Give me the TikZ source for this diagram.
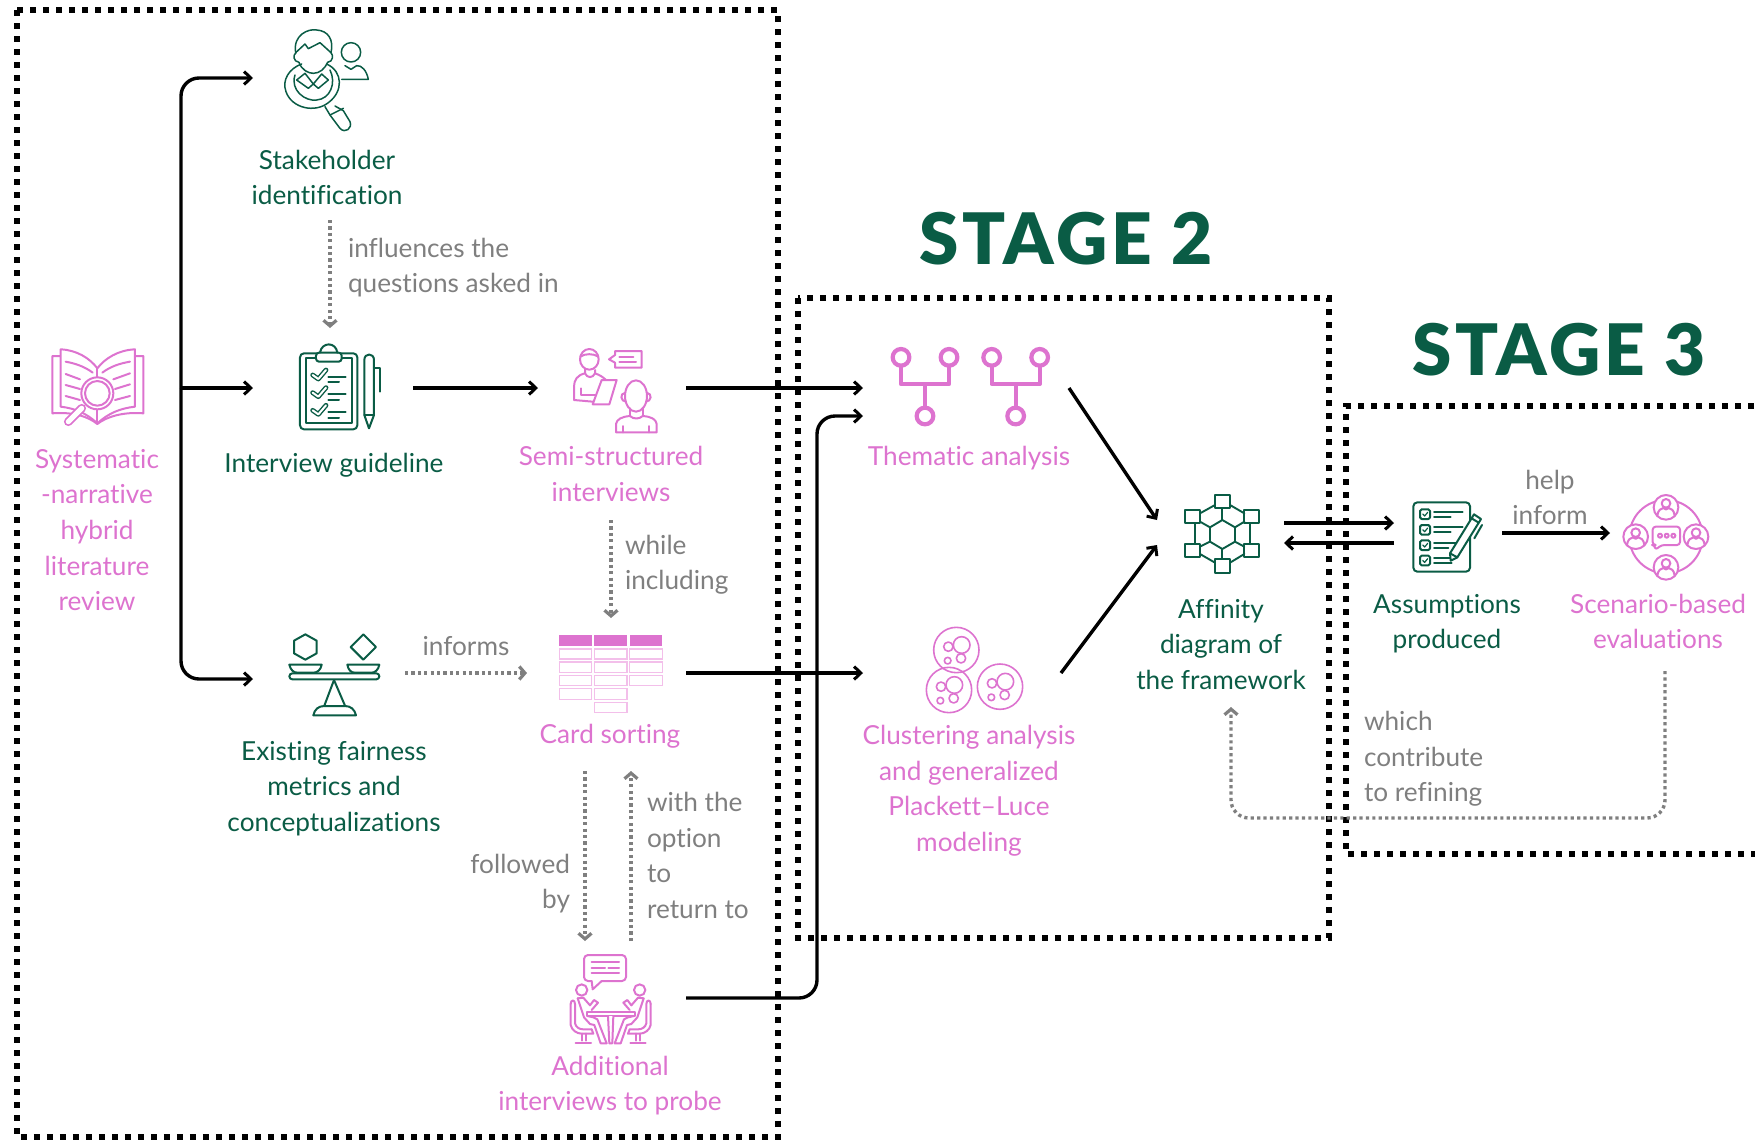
\documentclass[tikz,border=0pt]{standalone}
\usepackage{fontspec}
\setmainfont{Lato}[Ligatures=NoCommon]
\newfontfamily\stagefont[LetterSpace=5]{Lato Black}
\usetikzlibrary{arrows.meta}
\definecolor{pk}{HTML}{DD73CF}
\definecolor{pklight}{HTML}{F3BFEA}
\definecolor{gn}{HTML}{0A5C45}
\definecolor{gy}{HTML}{7F7F7F}
\def\lbltop{18.4pt}
\tikzset{
  frameline/.style={line width=3.1pt,dash pattern=on 3.2pt off 3.3pt,black},
  flow/.style={line width=1.7pt,black,-{Straight Barb[length=3.4pt,width=6.5pt,line width=1.5pt]}},
  rflow/.style={flow,rounded corners=9pt},
  dotflow/.style={line width=1.7pt,color=gy,dash pattern=on 1.6pt off 1.6pt,-{Straight Barb[length=2.8pt,width=6.5pt,line width=1.6pt]}},
  rdotflow/.style={dotflow,rounded corners=9pt},
  txt/.style={font=\fontsize{13.1}{17.85}\selectfont,inner sep=0pt,outer sep=0pt,align=center,execute at begin node={\rule{0pt}{\lbltop}},execute at end node={\rule[-3pt]{0pt}{3pt}}},
  sline/.style={/utils/exec={\def\lbltop{12.2pt}}},
  pinktxt/.style={txt,text=pk},
  greentxt/.style={txt,text=gn},
  greytxt/.style={txt,text=gy},
  leftgrey/.style={greytxt,align=left,anchor=west},
  rightgrey/.style={greytxt,align=right,anchor=east},
  stagetxt/.style={font=\stagefont\fontsize{35.5}{40}\selectfont,text=gn,inner sep=0pt},
  slot/.style={inner sep=0pt,outer sep=0pt},
  pi/.style={draw=pk,line width=1pt,line join=round,line cap=round},
  gi/.style={draw=gn,line width=1pt,line join=round,line cap=round},
  gthin/.style={draw=gn,line width=.75pt,line join=round,line cap=round},
  gmid/.style={draw=gn,line width=.95pt,line join=round,line cap=round},
  pthin/.style={draw=pk,line width=.8pt,line join=round,line cap=round},
}
\begin{document}
\begin{tikzpicture}[x=.5pt,y=-.5pt]
\useasboundingbox (0,0) rectangle (1755,1141);
\clip (0,0) rectangle (1755,1141);

% frames
\draw[frameline] (17,10) rectangle (778,1137);
\draw[frameline] (798,298) rectangle (1329,938);
\draw[frameline] (1780,406) -- (1346,406) -- (1346,854) -- (1780,854);

% titles
\node[stagetxt] (stage2) at (1066,239) {STAGE 2};
\node[stagetxt] (stage3) at (1559,350) {STAGE 3};

% icon slots (connectors attach to these)
\node[slot,minimum width=74pt,minimum height=50pt] (stk) at (327,78) {};
\node[slot,minimum width=80pt,minimum height=60pt] (guide) at (333,388) {};
\node[slot,minimum width=74pt,minimum height=40pt] (semi) at (612,388) {};
\node[slot,minimum width=76pt,minimum height=40pt] (exist) at (329,679) {};
\node[slot,minimum width=79.5pt,minimum height=55pt] (card) at (606.5,673) {};
\node[slot,minimum width=74pt,minimum height=57pt] (addl) at (612,998) {};
\node[slot,minimum width=103pt,minimum height=50pt] (them) at (966,388) {};
\node[slot,minimum width=99pt,minimum height=50pt] (clus) at (962,673) {};
\node[slot,minimum width=63.5pt,minimum height=50pt] (aff) at (1220.5,533) {};
\node[slot,minimum width=54pt,minimum height=50pt] (assm) at (1448,533) {};
\node[slot,minimum width=50pt,minimum height=50pt] (scen) at (1660,533) {};
\coordinate (trunk) at (181,388);
\coordinate (bend) at (817,700);
\coordinate (loop) at (1450,818);

% labels
\node[greentxt,minimum height=39.6pt] (stklbl) at (327,180.4) {Stakeholder\\identification};
\node[greentxt,sline] (guidelbl) at (334,463) {Interview guideline};
\node[pinktxt] (booklbl) at (97,532.9) {Systematic\\-narrative\\hybrid\\literature\\review};
\node[pinktxt,minimum height=43pt] (semilbl) at (611,477) {Semi-structured\\interviews};
\node[greentxt] (existlbl) at (334,789.4) {Existing fairness\\metrics and\\conceptualizations};
\node[pinktxt,sline,minimum height=37pt] (cardlbl) at (610,734) {Card sorting};
\node[pinktxt] (addlbl) at (610,1086.4) {Additional\\interviews to probe};
\node[pinktxt,sline] (themlbl) at (969,456) {Thematic analysis};
\node[pinktxt] (cluslbl) at (969,791.4) {Clustering analysis\\and generalized\\Plackett–Luce\\modeling};
\node[greentxt,minimum height=59.6pt] (afflbl) at (1221,647.4) {Affinity\\diagram of\\the framework};
\node[greentxt] (assmlbl) at (1447,624.4) {Assumptions\\produced};
\node[pinktxt,minimum height=46.6pt] (scenlbl) at (1658,624.4) {Scenario-based\\evaluations};

\node[leftgrey] (t1) at (348,268.4) {influences the\\questions asked in};
\node[leftgrey] (t2) at (625,565.4) {while\\including};
\node[greytxt,sline] (t3) at (466,646) {informs};
\node[rightgrey] (t4) at (570,884.4) {followed\\by};
\node[leftgrey] (t5) at (647,858.4) {with the\\option\\to\\return to};
\node[greytxt] (t6) at (1550,500.4) {help\\inform};
\node[leftgrey] (t7) at (1364,759.4) {which\\contribute\\to refining};

% solid connectors
\draw[rflow] (trunk) -- (trunk|-stk.west) -- (stk.west);
\draw[flow] (trunk) -- (guide.west);
\draw[rflow] (trunk) -- (trunk|-exist.west) -- (exist.west);
\draw[flow] (guide.east) -- (semi.west);
\draw[flow] (semi.east) -- (them.west);
\draw[flow] (card.east) -- (clus.west);
\draw[rflow] (addl.east) -| (bend) |- ([yshift=-14pt]them.west);
\draw[flow] (them.east) -- ([yshift=6.5pt]aff.west);
\draw[flow] (clus.east) -- ([yshift=-6pt]aff.west);
\draw[flow] ([yshift=5pt]aff.east) -- ([yshift=5pt]assm.west);
\draw[flow] ([yshift=-5pt]assm.west) -- ([yshift=-5pt]aff.east);
\draw[flow] (assm.east) -- (scen.west);

% dotted connectors
\draw[dotflow] ([xshift=1.5pt]stklbl.south) -- ([xshift=-1.5pt,yshift=0pt]guide.north);
\draw[dotflow] (semilbl.south) -- ([xshift=2.25pt]card.north);
\draw[dotflow] ([yshift=3pt]exist.east) -- (card.west);
\draw[dotflow] ([xshift=-12.5pt]cardlbl.south) -- ([xshift=-13.5pt]addl.north);
\draw[dotflow] ([xshift=9.5pt]addl.north) -- ([xshift=10.5pt]cardlbl.south);
\draw[rdotflow] ([xshift=3.5pt]scenlbl.south) |- (loop) -| ([xshift=5pt]afflbl.south);

% ---- stakeholder icon
\begin{scope}[scale=1/3]
 \begin{scope}[gthin]
  \draw (887,158) .. controls (878,105) and (925,85) .. (950,90) .. controls (985,92) and (1002,120) .. (993,158);
  \draw (887,158) -- (915,132) -- (925,146) -- (960,128) -- (993,158);
  \draw (888,158) .. controls (878,165) and (880,185) .. (897,187) .. controls (905,210) and (925,220) .. (940,220) .. controls (960,220) and (975,205) .. (983,187) .. controls (1000,185) and (1000,165) .. (993,158);
  \draw (890,240) -- (915,220) -- (940,252) -- (965,222) -- (985,240) -- (955,265) -- (940,252) -- (925,265) -- cycle;
  \draw (905,192) .. controls (868,205) and (845,240) .. (858,275) .. controls (875,325) and (945,340) .. (985,308) .. controls (1030,275) and (1030,215) .. (980,192);
  \draw (885,225) .. controls (870,270) and (915,305) .. (950,300) .. controls (990,297) and (1010,250) .. (990,210);
  \draw (975,320) -- (990,345) -- (1020,385) .. controls (1035,402) and (1058,385) .. (1050,365) -- (1030,332) -- (1005,318);
  \draw (990,345) -- (1030,325);
  \draw (1053,157) circle (29);
  \draw (1025,238) -- (1105,238) .. controls (1100,212) and (1085,195) .. (1070,197) -- (1053,208) -- (1035,197);
 \end{scope}
 % ---- book icon
 \begin{scope}[pi]
  \draw (180,1068) -- (157,1068) -- (157,1240) .. controls (220,1235) and (265,1250) .. (292,1272) .. controls (320,1250) and (370,1235) .. (430,1240) -- (430,1068) -- (405,1068);
  \draw (182,1048) .. controls (230,1050) and (270,1075) .. (292,1105) .. controls (315,1075) and (355,1050) .. (405,1048) -- (405,1220) .. controls (360,1225) and (325,1240) .. (292,1270) .. controls (260,1240) and (225,1225) .. (182,1220) -- cycle;
  \draw (292,1105) -- (292,1270);
  \draw (197,1085) .. controls (225,1090) and (255,1100) .. (278,1118);
  \draw (197,1122) -- (240,1138);
  \draw (197,1155) -- (240,1167);
  \draw (197,1188) -- (240,1200);
  \draw (390,1085) .. controls (360,1090) and (330,1100) .. (307,1118);
  \draw (390,1120) -- (340,1138);
  \draw (390,1153) -- (345,1167);
  \draw (390,1188) -- (345,1200);
  \draw[fill=white] (292,1180) circle (48);
  \draw (292,1180) circle (37);
  \draw[line width=4.4pt,line cap=round] (245,1225) -- (205,1265);
  \draw[line width=2.6pt,line cap=round,draw=white] (245,1225) -- (205,1265);
 \end{scope}
 % ---- clipboard icon
 \begin{scope}[gi]
  \draw[rounded corners=2pt] (900,1060) rectangle (1072,1288);
  \draw (918,1075) rectangle (1055,1270);
  \draw[fill=white,rounded corners=1.5pt] (948,1058) rectangle (1025,1085);
  \draw (960,1058) .. controls (965,1025) and (1008,1025) .. (1012,1058);
  \foreach \yy in {0,53,106}{
   \draw[line width=2.4pt] (938,1125+\yy) -- (955,1137+\yy) -- (978,1110+\yy);
   \draw[line width=1pt,draw=white] (938,1125+\yy) -- (955,1137+\yy) -- (978,1110+\yy);
   \draw (985,1130+\yy) -- (1037,1130+\yy);
   \draw (985,1147+\yy) -- (1017,1147+\yy);
  }
  \draw (1093,1245) -- (1093,1080) .. controls (1093,1058) and (1122,1058) .. (1122,1080) -- (1122,1245) -- (1107,1285) -- cycle;
  \draw (1093,1245) -- (1122,1245);
  \draw (1122,1105) -- (1140,1105) -- (1140,1175);
 \end{scope}
\end{scope}

% ---- semi-structured icon + card sort
\begin{scope}[shift={(500,320)},scale=1/3]
 \begin{scope}[pi]
  \draw (268,118) ellipse (28 and 31);
  \draw (241,110) .. controls (255,100) and (280,100) .. (295,110);
  \draw (255,147) -- (255,160) .. controls (262,175) and (278,175) .. (285,160) -- (285,150);
  \draw (255,160) .. controls (232,165) and (222,180) .. (222,200) -- (222,240) -- (278,245);
  \draw (285,160) .. controls (300,165) and (310,172) .. (318,180);
  \draw (242,205) -- (242,225) -- (285,225);
  \draw (305,180) -- (350,180) -- (328,253) -- (278,253) -- cycle;
  \draw (345,93) -- (425,93) -- (425,143) -- (345,143) -- (345,128) -- (327,118) -- (345,105) -- cycle;
  \draw (358,110) -- (400,110);
  \draw (358,127) -- (408,127);
  \draw (408,228) ellipse (33 and 47);
  \draw (376,218) .. controls (358,220) and (362,245) .. (378,245);
  \draw (440,218) .. controls (458,220) and (454,245) .. (438,245);
  \draw (390,265) -- (390,288);
  \draw (428,265) -- (428,288);
  \draw (348,337) -- (348,312) .. controls (350,298) and (365,290) .. (390,288) .. controls (400,298) and (418,298) .. (428,288) .. controls (455,290) and (468,298) .. (470,312) -- (470,337) -- cycle;
  \draw (370,318) -- (370,337);
  \draw (447,318) -- (447,337);
 \end{scope}
 \foreach \xa/\xb in {178/275,283/381,389/487}{
  \fill[pk] (\xa,945) rectangle (\xb,977);
  \foreach \ya/\yb in {987/1017,1026/1057,1066/1097}{
   \draw[pklight,line width=.7pt] (\xa,\ya) rectangle (\xb,\yb);
  }
 }
 \draw[pklight,line width=.7pt] (178,1106) rectangle (275,1138);
 \draw[pklight,line width=.7pt] (283,1106) rectangle (381,1138);
 \draw[pklight,line width=.7pt] (283,1147) rectangle (381,1177);
\end{scope}

% ---- scales icon
\begin{scope}[shift={(260,620)},scale=1/3,gi]
 \draw (136,43) -- (170,62) -- (170,100) -- (136,119) -- (102,100) -- (102,62) -- cycle;
 \draw (310,43) -- (348,81) -- (310,119) -- (272,81) -- cycle;
 \draw (88,134) -- (185,134) .. controls (182,150) and (172,158) .. (160,158) -- (113,158) .. controls (100,158) and (92,150) .. (88,134) -- cycle;
 \draw (262,134) -- (358,134) .. controls (355,150) and (345,158) .. (335,158) -- (285,158) .. controls (273,158) and (265,150) .. (262,134) -- cycle;
 \draw[rounded corners=1.5pt] (88,160) rectangle (358,178);
 \draw (222,180) -- (193,257);
 \draw (222,180) -- (255,257);
 \draw (160,286) -- (288,286) .. controls (284,268) and (272,258) .. (255,258) -- (193,258) .. controls (175,258) and (164,268) .. (160,286) -- cycle;
\end{scope}

% ---- meeting icon
\begin{scope}[shift={(540,930)},scale=1/3]
 \begin{scope}[pi]
  \draw[rounded corners=2pt] (155,153) -- (132,153) -- (132,75) -- (258,75) -- (258,153) -- (185,153);
  \draw (155,153) -- (158,178) -- (185,153);
  \draw (155,97) -- (237,97);
  \draw (155,113) -- (195,113);
  \draw (205,113) -- (237,113);
  \draw (155,130) -- (237,130);
 \end{scope}
 \foreach \mir/\off in {1/0,-1/424}{
  \begin{scope}[shift={(\off,0)},xscale=\mir,pi]
   \draw (125,180) circle (17);
   \draw (113,205) -- (130,203) -- (150,226) -- (162,210) -- (174,218) -- (155,240);
   \draw (113,205) -- (132,262) -- (150,282) -- (163,285) -- (182,340) -- (200,340) -- (172,268) -- (160,262) -- (142,258);
   \draw (92,222) .. controls (92,208) and (105,208) .. (105,222) -- (105,280) .. controls (108,292) and (118,298) .. (130,298) -- (155,298);
   \draw (92,222) -- (92,285) .. controls (95,300) and (110,311) .. (125,311) -- (160,311) -- (155,298);
   \draw (125,311) -- (125,332);
   \draw (137,311) -- (137,332);
   \draw (107,340) -- (153,340);
  \end{scope}
 }
 \draw[pi,fill=white] (140,245) rectangle (285,258);
 \draw[pi,fill=white] (204,258) -- (208,340) -- (217,340) -- (220,258);
\end{scope}

% ---- thematic, cluster, affinity
\begin{scope}[shift={(860,330)},scale=1/3]
 \foreach \dx/\dm in {0/0,272/270}{
  \begin{scope}[shift={(\dx,0)}]
   \draw[pk,line width=2.1pt,line join=round] (123,105) -- (123,162) -- (267,162) -- (267,105);
   \draw[pk,line width=2.1pt] (195,162) -- (195,232);
   \foreach \cx/\cy in {123/82,267/82,195/258}{
    \draw[pk,line width=2.1pt,fill=white] (\cx,\cy) circle (25);
   }
  \end{scope}
 }
 \foreach \ox/\oy in {0/0,-22/120,131/110}{
  \begin{scope}[shift={(\ox,\oy)},pthin]
   \draw (289,960) circle (68);
   \draw (305,945) circle (25);
   \draw[fill=white] (265,950) circle (14);
   \draw (303,985) circle (14);
   \draw (263,992) circle (10);
  \end{scope}
 }
 \begin{scope}[gmid]
  \draw (1087,570) -- (1125,592) -- (1125,635) -- (1087,657) -- (1050,635) -- (1050,592) -- cycle;
  \draw (1087,537) -- (1087,570);
  \draw (1087,657) -- (1087,686);
  \draw (1065,525) -- (1020,550);
  \draw (1110,525) -- (1153,550);
  \draw (1020,672) -- (1065,698);
  \draw (1110,698) -- (1153,672);
  \draw (1005,582) -- (1005,640);
  \draw (1170,582) -- (1170,640);
  \draw (1050,592) -- (1020,575);
  \draw (1125,592) -- (1153,575);
  \draw (1050,635) -- (1020,650);
  \draw (1125,635) -- (1153,650);
  \foreach \cx/\cy in {1087/515,1087/708,998/560,1175/560,998/662,1175/662}{
   \draw (\cx-22,\cy-20) rectangle (\cx+22,\cy+20);
  }
 \end{scope}
\end{scope}

% ---- assumptions and scenario icons
\begin{scope}[shift={(1380,470)},scale=1/3]
 \begin{scope}[gi]
  \draw[rounded corners=2pt] (100,97) rectangle (270,305);
  \foreach \yy in {118,165,211,257}{
   \draw[rounded corners=.8pt] (120,\yy) rectangle (150,\yy+29);
   \draw[line width=.6pt] (128,\yy+14) -- (134,\yy+20) -- (143,\yy+9);
  }
  \draw (162,125) -- (248,125);
  \draw (162,140) -- (212,140);
  \draw (162,172) -- (248,172);
  \draw (162,187) -- (212,187);
  \draw (162,218) -- (235,218);
  \draw (162,233) -- (205,233);
  \draw (162,265) -- (222,265);
  \draw (162,280) -- (215,280);
  \draw[fill=white] (282,133) -- (303,147) -- (232,262) -- (212,272) -- (210,250) -- cycle;
  \draw (210,250) -- (232,262);
  \draw (275,145) -- (296,158);
  \draw (306,165) -- (283,205);
 \end{scope}
 \begin{scope}[pi]
  \draw (858,200) circle (110);
  \foreach \cx/\cy in {858/112,858/292,767/200,948/200}{
   \draw[fill=white] (\cx,\cy) circle (37);
   \draw (\cx,\cy-12) circle (13);
   \draw (\cx-26,\cy+25) .. controls (\cx-24,\cy+8) and (\cx-15,\cy+3) .. (\cx-8,\cy+2) .. controls (\cx-4,\cy+8) and (\cx+4,\cy+8) .. (\cx+8,\cy+2) .. controls (\cx+15,\cy+3) and (\cx+24,\cy+8) .. (\cx+26,\cy+25);
  }
  \draw[fill=white,rounded corners=1.5pt] (825,225) -- (818,225) -- (818,170) -- (900,170) -- (900,225) -- (845,225) -- (825,240) -- cycle;
  \foreach \dx in {840,860,880}{\draw (\dx,197) circle (6);}
 \end{scope}
\end{scope}
\end{tikzpicture}
\end{document}
